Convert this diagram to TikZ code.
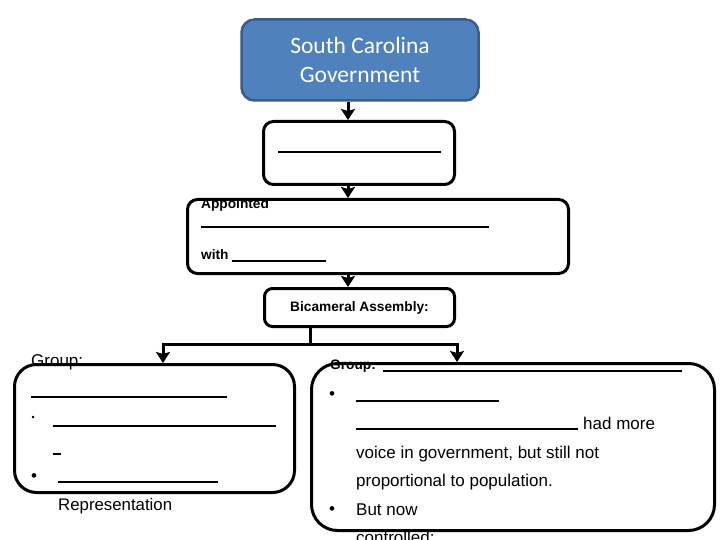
\documentclass[tikz,border=0pt]{standalone}
\usepackage{fontspec}
\setmainfont{Liberation Sans}
\newfontfamily\calibri{Carlito}
\usetikzlibrary{arrows.meta}
\definecolor{govblue}{RGB}{79,129,189}
\definecolor{govedge}{RGB}{56,93,138}

\begin{document}
\begin{tikzpicture}[x=1pt,y=-1pt,
  box/.style={draw,line width=3pt,rounded corners=10pt,inner sep=0pt},
  arr/.style={line width=3pt,-{Stealth[width=14pt,length=11pt,inset=2pt]}},
  blank/.style={line width=1.2pt},
  txt/.style={inner sep=0pt,anchor=base west,font=\fontsize{17}{20}\selectfont},
  small/.style={inner sep=0pt,anchor=base west,font=\bfseries\fontsize{13.7}{16}\selectfont}]
\clip (0,0) rectangle (720,540);
\fill[white] (0,0) rectangle (720,540);

% the chain of boxes
\node[box,fill=govblue,draw=govedge,line width=2.5pt,rounded corners=13pt,minimum width=237pt,minimum height=81pt,
  text=white,align=center,font=\calibri\fontsize{23.5}{29}\selectfont] (gov) at (360,60) {South Carolina\\Government};
\node[box,minimum width=191pt,minimum height=63pt] (blank) at (359,153) {};
\node[box,minimum width=381pt,minimum height=74pt] (appt) at (378,236.5) {};
\node[box,rounded corners=8pt,minimum width=190pt,minimum height=38pt,
  font=\bfseries\fontsize{13.7}{16}\selectfont] (assem) at (359.5,307.5) {Bicameral Assembly:};
\node[box,rounded corners=22pt,minimum width=280pt,minimum height=128pt] (grpL) at (154.5,428.5) {};
\node[box,rounded corners=26pt,minimum width=403pt,minimum height=167pt] (grpR) at (513,447) {};

% arrows
\coordinate (ax) at (348,0);
\coordinate (lx) at (163,0);
\coordinate (rx) at (457,0);
\coordinate (fork) at (310,344);
\draw[arr] (gov.south -| ax) -- (blank.north -| ax);
\draw[arr] (blank.south -| ax) -- (appt.north -| ax);
\draw[arr] (appt.south -| ax) -- (assem.north -| ax);
\draw[line width=3pt] (assem.south -| fork) -- (fork);
\draw[arr] (fork) -| (grpL.north -| lx);
\draw[arr] (fork) -| (grpR.north -| rx);

% blanks and texts
\draw[blank] (278,152) -- (441,152);
\node[small] (apptT) at (201,209) {Appointed};
\draw[blank] (201,227) -- (489,227);
\node[small] (withT) at (201,259) {with};
\draw[blank] (232,261) -- (326,261);

\node[txt] (grpLT) at (31,366) {Group:};
\draw[blank] (31,397) -- (227,397);
\node[txt,font=\fontsize{9}{10}\selectfont] (bulA) at (31.5,420) {•};
\draw[blank] (53,426) -- (276,426);
\draw[blank] (53,454) -- (61,454);
\node[txt] (bulB) at (31,481.5) {•};
\draw[blank] (58,482) -- (218,482);
\node[txt,font=\fontsize{16.8}{19}\selectfont] (repT) at (58,510) {Representation};

\node[small] (grpRT) at (330,369) {Group:};
\draw[blank] (383,371) -- (682,371);
\node[txt] (bulC) at (329,399) {•};
\draw[blank] (356,401) -- (499,401);
\draw[blank] (356,429) -- (578,429);
\node[txt] (moreT) at (583,429) {had more};
\node[txt] (voiceT) at (356,458) {voice in government, but still not};
\node[txt] (propT) at (356,486.5) {proportional to population.};
\node[txt] (bulD) at (329,514) {•};
\node[txt] (nowT) at (356,515) {But now};
\node[txt] (ctrlT) at (356,543.5) {controlled:};
\end{tikzpicture}
\end{document}
